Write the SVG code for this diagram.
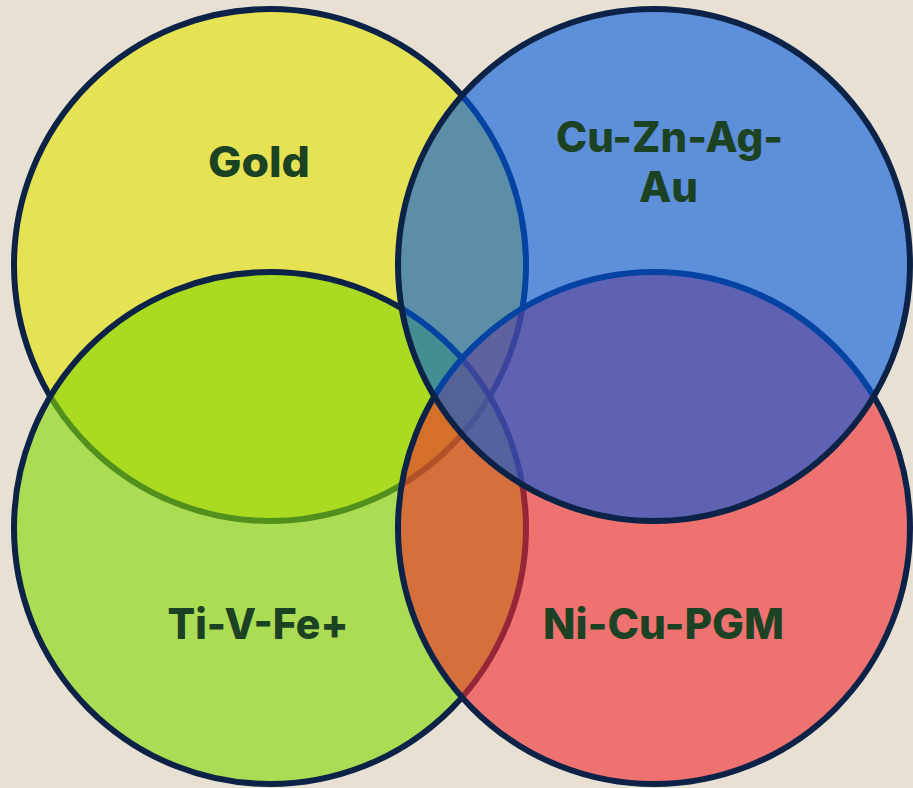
<svg xmlns="http://www.w3.org/2000/svg" width="913" height="788" viewBox="0 0 913 788">
  <style>
    .ring { stroke: #0c2347; stroke-width: 6; fill-opacity: 0.6; }
    .label { font-family: Inter, "Open Sans", "Liberation Sans", sans-serif; font-weight: 800; font-size: 42px; fill: #1b4223; text-anchor: middle; }
  </style>
  <rect width="913" height="788" fill="#e8e1d3"/>

  <!-- drawing order: gold, ti-v-fe, ni-cu-pgm, cu-zn-ag-au -->
  <g id="gold">
    <circle class="ring" cx="270" cy="265" r="256" fill="#e3e300"/>
    <text class="label" x="259" y="177" textLength="102" lengthAdjust="spacingAndGlyphs">Gold</text>
  </g>

  <g id="ti-v-fe">
    <circle class="ring" cx="270" cy="528" r="256" fill="#81d900"/>
    <text class="label" x="258" y="639" textLength="181" lengthAdjust="spacingAndGlyphs">Ti-V-Fe+</text>
  </g>

  <g id="ni-cu-pgm">
    <circle class="ring" cx="654" cy="528" r="256" fill="#f2282e"/>
    <text class="label" x="663.5" y="639" textLength="241" lengthAdjust="spacingAndGlyphs">Ni-Cu-PGM</text>
  </g>

  <g id="cu-zn-ag-au">
    <circle class="ring" cx="654" cy="265" r="256" fill="#0058e0"/>
    <text class="label" x="669.5" y="152" textLength="227" lengthAdjust="spacingAndGlyphs">Cu-Zn-Ag-</text>
    <text class="label" x="668.5" y="202" textLength="59" lengthAdjust="spacingAndGlyphs">Au</text>
  </g>
</svg>
